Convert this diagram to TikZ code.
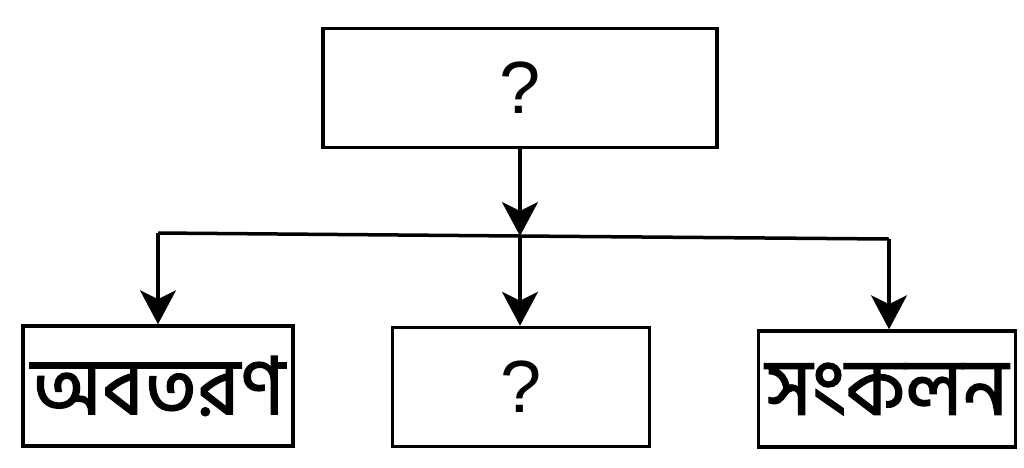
\documentclass[tikz,border=0pt]{standalone}
\usepackage{fontspec}
\setmainfont{Liberation Sans}
\newfontfamily\bnfont[Script=Bengali,FakeBold=1.5]{Hind Siliguri}
\usetikzlibrary{arrows.meta}
\tikzset{
BOX/.style ={draw=black,line width=3.5pt,inner sep=0pt,line join=miter},
LINK/.style ={draw=black,line width=3.5pt,-{Stealth[length=34pt,width=36pt,inset=9pt]}},
LINE/.style ={draw=black,line width=3.5pt,line join=miter},
QMARK/.style={font=\fontsize{74}{80}\selectfont},
BNTEXT/.style={font=\bnfont\fontsize{80}{90}\selectfont},
}
\begin{document}
\begin{tikzpicture}
[x=1pt,y=-1pt]
	\useasboundingbox (0,0) rectangle (1024,467);
	%Boxes
	\node[BOX,QMARK,minimum width=394pt,minimum height=119pt] (top) at (520,88) {?};
	\node[BOX,BNTEXT,minimum width=270pt,minimum height=120pt] (sub) at (158,386) {অবতরণ};
	\node[BOX,QMARK,minimum width=257pt,minimum height=119pt] (mid) at (521,387) {?};
	\node[BOX,BNTEXT,minimum width=257pt,minimum height=116pt] (add) at (887,389) {সংকলন};
	%Branch
	\coordinate (split) at (520,236);
	\coordinate (splitL) at (158,233);
	\coordinate (splitR) at (889,239);
	\path[LINK] (top.south) -- (split);
	\path[LINE] (splitL) -- (split) -- (splitR);
	\path[LINK] (splitL) -- (splitL |- sub.north);
	\path[LINK] (split) -- (split |- mid.north);
	\path[LINK] (splitR) -- (splitR |- add.north);
\end{tikzpicture}
\end{document}
